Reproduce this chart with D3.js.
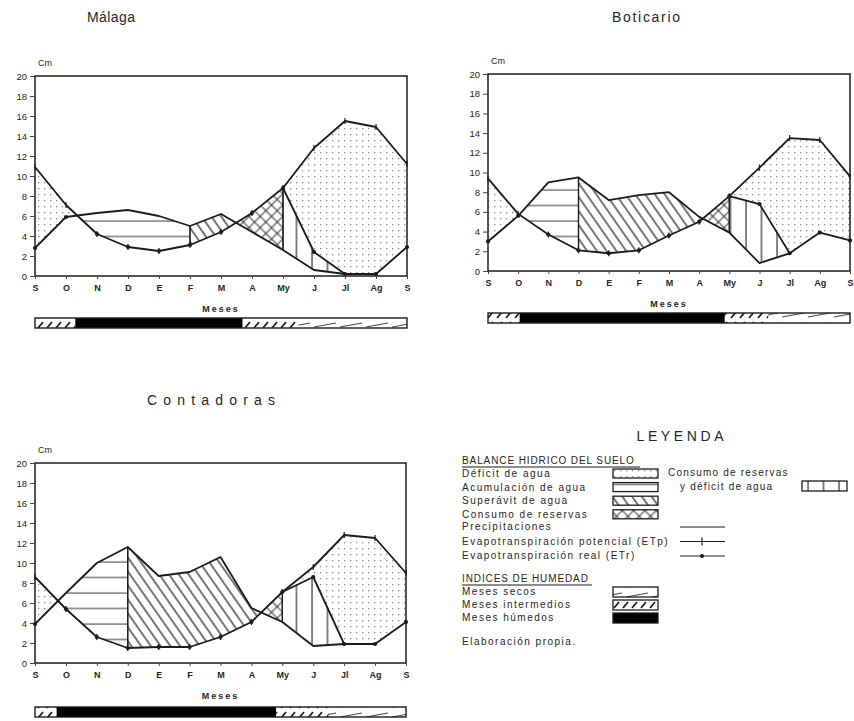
<!DOCTYPE html>
<html>
<head>
<meta charset="utf-8">
<script src="https://cdn.jsdelivr.net/npm/d3@7"></script>
<style>
  body { margin: 0; background: #fff; }
  svg text { font-family: "Liberation Sans", "DejaVu Sans", sans-serif; fill: #262626; }
</style>
</head>
<body>
<svg id="chart" width="854" height="721"></svg>
<script>
// ---- data (cm per month) ----
const months = ['S', 'O', 'N', 'D', 'E', 'F', 'M', 'A', 'My', 'J', 'Jl', 'Ag', 'S'];
const yTicks = [0, 2, 4, 6, 8, 10, 12, 14, 16, 18, 20];

const malagaP   = [2.8, 5.9, 6.3, 6.6, 6.0, 5.0, 6.2, 4.4, 2.6, 0.6, 0.2, 0.2, 2.9];
const malagaETp = [10.9, 7.1, 4.2, 2.9, 2.5, 3.1, 4.4, 6.3, 8.8, 12.8, 15.5, 14.9, 11.2];
const malagaETr = [2.8, 5.9, 4.2, 2.9, 2.5, 3.1, 4.4, 6.3, 8.8, 2.4, 0.2, 0.2, 2.9];

const boticarioP   = [3.0, 5.6, 9.0, 9.5, 7.2, 7.7, 8.0, 5.5, 3.9, 0.8, 1.8, 3.9, 3.1];
const boticarioETp = [9.4, 5.8, 3.7, 2.1, 1.8, 2.1, 3.6, 5.0, 7.6, 10.5, 13.5, 13.3, 9.6];
const boticarioETr = [3.0, 5.6, 3.7, 2.1, 1.8, 2.1, 3.6, 5.0, 7.6, 6.8, 1.8, 3.9, 3.1];

const contadorasP   = [3.9, 7.0, 10.0, 11.6, 8.7, 9.1, 10.6, 5.5, 4.1, 1.7, 1.9, 1.9, 4.1];
const contadorasETp = [8.6, 5.4, 2.6, 1.5, 1.6, 1.6, 2.6, 4.1, 7.1, 9.6, 12.8, 12.5, 9.0];
const contadorasETr = [3.9, 5.4, 2.6, 1.5, 1.6, 1.6, 2.6, 4.1, 7.1, 8.6, 1.9, 1.9, 4.1];

// water balance zones: pattern, upper series, lower series, month span
const malagaZonas = [
  ['deficit', 'etp', 'p', 0, 2], ['acumulacion', 'p', 'etp', 1, 5],
  ['superavit', 'p', 'etp', 5, 7], ['consumo', 'etp', 'p', 6, 8],
  ['consumoDeficit', 'etr', 'p', 8, 10], ['deficit', 'etp', 'etr', 8, 12]
];
const boticarioZonas = [
  ['deficit', 'etp', 'p', 0, 2], ['acumulacion', 'p', 'etp', 1, 3],
  ['superavit', 'p', 'etp', 3, 8], ['consumo', 'etp', 'p', 7, 8],
  ['consumoDeficit', 'etr', 'p', 8, 10], ['deficit', 'etp', 'etr', 8, 12]
];
const contadorasZonas = [
  ['deficit', 'etp', 'p', 0, 1], ['acumulacion', 'p', 'etp', 0, 3],
  ['superavit', 'p', 'etp', 3, 8], ['consumo', 'etp', 'p', 7, 8],
  ['consumoDeficit', 'etr', 'p', 8, 10], ['deficit', 'etp', 'etr', 8, 12]
];

// humidity index bar: type, from month, to month
const malagaHumedad = [['intermedio', 0, 1.3], ['humedo', 1.3, 6.7], ['intermedio', 6.7, 8.5], ['seco', 8.5, 12]];
const boticarioHumedad = [['intermedio', 0, 1.05], ['humedo', 1.05, 7.85], ['intermedio', 7.85, 9.3], ['seco', 9.3, 12]];
const contadorasHumedad = [['intermedio', 0, 0.7], ['humedo', 0.7, 7.8], ['intermedio', 7.8, 9.5], ['seco', 9.5, 12]];

const legendBalance = [
  ['Déficit de agua', 'deficit'], ['Acumulación de agua', 'acumulacion'],
  ['Superávit de agua', 'superavit'], ['Consumo de reservas', 'consumo']
];
const legendLines = [
  ['Precipitaciones', 'p'], ['Evapotranspiración potencial (ETp)', 'etp'], ['Evapotranspiración real (ETr)', 'etr']
];
const legendHumedad = [['Meses secos', 'seco'], ['Meses intermedios', 'intermedio'], ['Meses húmedos', 'humedo']];

// ---- drawing ----
const svg = d3.select('#chart');
const defs = svg.append('defs');
const INK = '#1c1c1c';

function pattern(id, w, h, transform) {
  const p = defs.append('pattern').attr('id', id)
    .attr('patternUnits', 'userSpaceOnUse').attr('width', w).attr('height', h);
  if (transform) p.attr('patternTransform', transform);
  p.append('rect').attr('width', w).attr('height', h).attr('fill', '#fff');
  return p;
}
pattern('deficit', 6, 6).append('rect').attr('x', 2).attr('y', 2).attr('width', 1.3).attr('height', 1.3).attr('fill', '#8a8a8a');
pattern('acumulacion', 10, 15.5).append('line').attr('x1', 0).attr('x2', 10).attr('y1', 4).attr('y2', 4).attr('stroke', '#333').attr('stroke-width', 1);
pattern('superavit', 8, 8, 'rotate(-35)').append('line').attr('x1', 1).attr('x2', 1).attr('y1', 0).attr('y2', 8).attr('stroke', INK).attr('stroke-width', 1.2);
const cp = pattern('consumo', 8, 8, 'rotate(45)');
cp.append('line').attr('x1', 1).attr('x2', 1).attr('y1', 0).attr('y2', 8).attr('stroke', INK).attr('stroke-width', 0.9);
cp.append('line').attr('x1', 0).attr('x2', 8).attr('y1', 1).attr('y2', 1).attr('stroke', INK).attr('stroke-width', 0.9);
pattern('consumoDeficit', 15.5, 10).append('line').attr('x1', 2).attr('x2', 2).attr('y1', 0).attr('y2', 10).attr('stroke', INK).attr('stroke-width', 1.1);
pattern('seco', 26, 10).append('line').attr('x1', 2).attr('y1', 7).attr('x2', 24).attr('y2', 3).attr('stroke', '#444').attr('stroke-width', 1);
pattern('intermedio', 9, 10).append('line').attr('x1', 2).attr('y1', 8).attr('x2', 7).attr('y2', 2).attr('stroke', INK).attr('stroke-width', 1.8);
pattern('humedo', 4, 4).select('rect').attr('fill', '#000');

const lerp = (arr, t) => {
  const i = Math.min(Math.floor(t), arr.length - 2), f = t - i;
  return arr[i] * (1 - f) + arr[i + 1] * f;
};

function zoneSteps(top, bottom, from, to) {
  const steps = [];
  for (let i = from; i < to; i++) {
    const d0 = top[i] - bottom[i], d1 = top[i + 1] - bottom[i + 1];
    steps.push(i);
    if (d0 * d1 < 0) steps.push(i + d0 / (d0 - d1));
  }
  steps.push(to);
  return steps;
}

function drawStation(o) {
  const g = svg.append('g');
  const x = d3.scaleLinear().domain([0, 12]).range([o.x0, o.x1]);
  const y = d3.scaleLinear().domain([0, 20]).range([o.yBot, o.yTop]);
  const series = { p: o.p, etp: o.etp, etr: o.etr };

  // zones
  o.zonas.forEach(([pat, top, bottom, from, to]) => {
    const T = series[top], B = series[bottom];
    const area = d3.area()
      .x(t => x(t))
      .y1(t => y(lerp(T, t)))
      .y0(t => y(Math.min(lerp(T, t), lerp(B, t))));
    g.append('path').attr('d', area(zoneSteps(T, B, from, to)))
      .attr('fill', `url(#${pat})`).attr('stroke', 'none');
  });
  // edges closing the hatched zones at month boundaries
  o.zonas.forEach(([pat, top, bottom, from, to]) => {
    if (pat === 'deficit') return;
    [from, to].forEach(i => {
      const a = series[top][i], b = series[bottom][i];
      if (a - b > 0.3) g.append('line').attr('x1', x(i)).attr('x2', x(i))
        .attr('y1', y(a)).attr('y2', y(b)).attr('stroke', INK).attr('stroke-width', 1.2);
    });
  });

  // frame
  g.append('rect').attr('x', o.x0).attr('y', o.yTop).attr('width', o.x1 - o.x0).attr('height', o.yBot - o.yTop)
    .attr('fill', 'none').attr('stroke', INK).attr('stroke-width', 1.5);

  // axes
  const ya = g.append('g').attr('transform', `translate(${o.x0},0)`)
    .call(d3.axisLeft(y).tickValues(yTicks).tickSize(5).tickPadding(3));
  ya.select('.domain').remove();
  ya.selectAll('text').attr('font-size', 9.5).style('font-family', '"Liberation Sans", sans-serif').attr('fill', '#262626');
  ya.selectAll('line').attr('stroke', '#444');
  const xa = g.append('g').attr('transform', `translate(0,${o.yBot})`)
    .call(d3.axisBottom(x).tickValues(d3.range(13)).tickFormat(i => months[i]).tickSize(3).tickPadding(6));
  xa.select('.domain').remove();
  xa.selectAll('text').attr('font-size', 9).attr('font-weight', 'bold')
    .style('font-family', '"Liberation Sans", sans-serif').attr('fill', '#262626');
  xa.selectAll('line').attr('stroke', '#444');

  // lines
  const line = d3.line().x((d, i) => x(i)).y(d => y(d));
  ['p', 'etp'].forEach(k => g.append('path').attr('d', line(series[k]))
    .attr('fill', 'none').attr('stroke', INK).attr('stroke-width', 1.8).attr('stroke-linejoin', 'round'));
  // ETr drawn where it leaves both P and ETp (reserve consumption)
  const own = i => Math.abs(o.etr[i] - o.p[i]) > 1e-6 && Math.abs(o.etr[i] - o.etp[i]) > 1e-6;
  d3.range(12).filter(i => own(i) || own(i + 1)).forEach(i => {
    g.append('line').attr('x1', x(i)).attr('x2', x(i + 1)).attr('y1', y(o.etr[i])).attr('y2', y(o.etr[i + 1]))
      .attr('stroke', INK).attr('stroke-width', 1.8).attr('stroke-linecap', 'round');
  });
  g.selectAll('.tick-etp').data(o.etp).join('line').attr('class', 'tick-etp')
    .attr('x1', (d, i) => x(i)).attr('x2', (d, i) => x(i))
    .attr('y1', d => y(d) - 3).attr('y2', d => y(d) + 3).attr('stroke', INK).attr('stroke-width', 1.2);
  g.selectAll('.dot-etr').data(o.etr).join('circle').attr('class', 'dot-etr')
    .attr('cx', (d, i) => x(i)).attr('cy', d => y(d)).attr('r', 2.1).attr('fill', INK);

  // labels
  g.append('text').attr('x', o.x0 + 3).attr('y', o.yTop - 10).attr('font-size', 9).text('Cm');
  g.append('text').attr('x', (o.x0 + o.x1) / 2).attr('y', o.yBot + 36).attr('text-anchor', 'middle')
    .attr('font-size', 9).attr('font-weight', 'bold').attr('letter-spacing', 2).text('Meses');
  g.append('text').attr('x', o.titleX).attr('y', o.titleY).attr('text-anchor', 'middle')
    .attr('font-size', 14).attr('textLength', o.titleW).attr('lengthAdjust', 'spacing').text(o.title);

  // humidity bar
  const bt = o.yBot + o.barGap;
  o.humedad.forEach(([tipo, a, b]) => g.append('rect').attr('x', x(a)).attr('y', bt)
    .attr('width', x(b) - x(a)).attr('height', 10).attr('fill', `url(#${tipo})`));
  g.append('rect').attr('x', o.x0).attr('y', bt).attr('width', o.x1 - o.x0).attr('height', 10)
    .attr('fill', 'none').attr('stroke', INK).attr('stroke-width', 1.4);
}

drawStation({ title: 'Málaga', titleX: 111, titleY: 22, titleW: 48, x0: 35, x1: 407, yTop: 76, yBot: 276, barGap: 42,
  p: malagaP, etp: malagaETp, etr: malagaETr, zonas: malagaZonas, humedad: malagaHumedad });
drawStation({ title: 'Boticario', titleX: 646, titleY: 22, titleW: 68, x0: 488, x1: 850, yTop: 74, yBot: 271, barGap: 42,
  p: boticarioP, etp: boticarioETp, etr: boticarioETr, zonas: boticarioZonas, humedad: boticarioHumedad });
drawStation({ title: 'Contadoras', titleX: 211, titleY: 405, titleW: 128, x0: 35, x1: 406, yTop: 463, yBot: 663, barGap: 44,
  p: contadorasP, etp: contadorasETp, etr: contadorasETr, zonas: contadorasZonas, humedad: contadorasHumedad });

// ---- legend ----
const lg = svg.append('g');
const lt = (x, y, s, ls = 1.5) => lg.append('text').attr('x', x).attr('y', y).attr('font-size', 10)
  .attr('letter-spacing', ls).text(s);
lg.append('text').attr('x', 680).attr('y', 441).attr('text-anchor', 'middle').attr('font-size', 14)
  .attr('textLength', 87).attr('lengthAdjust', 'spacing').text('LEYENDA');

lt(462, 464, 'BALANCE HIDRICO DEL SUELO', 0.9);
lg.append('line').attr('x1', 462).attr('x2', 640).attr('y1', 467).attr('y2', 467).attr('stroke', INK).attr('stroke-width', 1.1);
legendBalance.forEach(([label, pat], i) => {
  const yy = 477 + i * 13.6;
  lt(462, yy, label);
  lg.append('rect').attr('x', 613).attr('y', yy - 8).attr('width', 45).attr('height', 9)
    .attr('fill', `url(#${pat})`).attr('stroke', INK).attr('stroke-width', 1.3);
});
lt(668, 476, 'Consumo de reservas', 1.2);
lt(680, 490, 'y déficit de agua', 1.2);
lg.append('rect').attr('x', 802).attr('y', 481).attr('width', 45).attr('height', 10)
  .attr('fill', 'url(#consumoDeficit)').attr('stroke', INK).attr('stroke-width', 1.3);

legendLines.forEach(([label, k], i) => {
  const yy = 530 + i * 14.5;
  lt(462, yy, label);
  lg.append('line').attr('x1', 680).attr('x2', 725).attr('y1', yy - 3).attr('y2', yy - 3).attr('stroke', INK).attr('stroke-width', 1.2);
  if (k === 'etp') lg.append('line').attr('x1', 702).attr('x2', 702).attr('y1', yy - 7).attr('y2', yy + 1).attr('stroke', INK).attr('stroke-width', 1.2);
  if (k === 'etr') lg.append('circle').attr('cx', 702).attr('cy', yy - 3).attr('r', 2).attr('fill', INK);
});

lt(462, 582, 'INDICES DE HUMEDAD', 0.9);
lg.append('line').attr('x1', 462).attr('x2', 592).attr('y1', 585).attr('y2', 585).attr('stroke', INK).attr('stroke-width', 1.1);
legendHumedad.forEach(([label, tipo], i) => {
  const yy = 595 + i * 13;
  lt(462, yy, label);
  lg.append('rect').attr('x', 613).attr('y', yy - 8).attr('width', 45).attr('height', 10)
    .attr('fill', `url(#${tipo})`).attr('stroke', INK).attr('stroke-width', 1.3);
});
lt(462, 645, 'Elaboración propia.');
</script>
</body>
</html>
